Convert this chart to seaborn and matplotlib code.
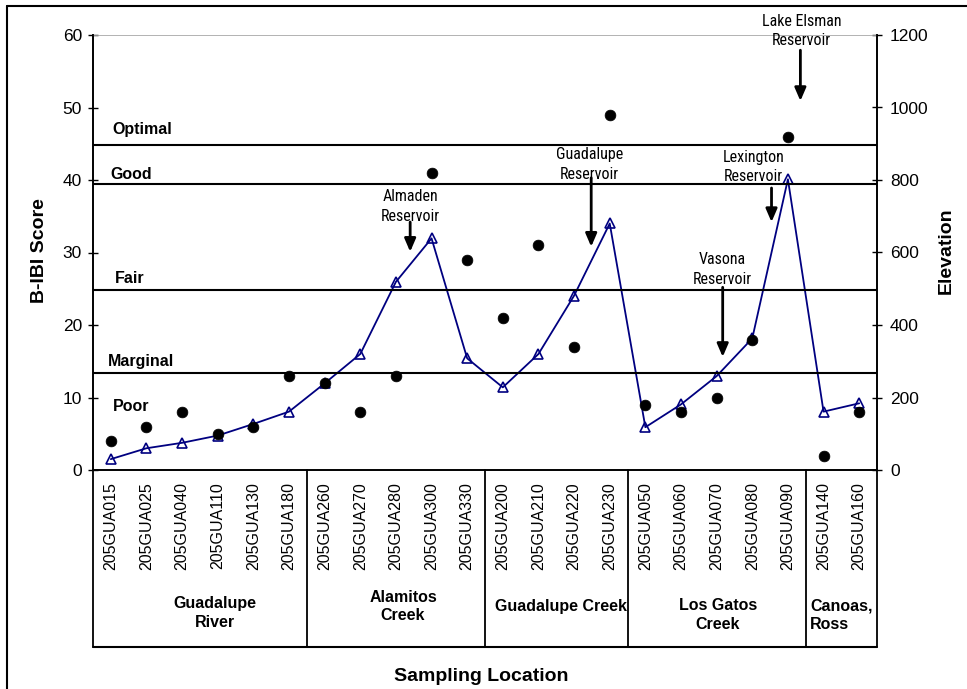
import numpy as np
import pandas as pd
import matplotlib
matplotlib.use("Agg")
import matplotlib.pyplot as plt
from matplotlib import font_manager as fm
from matplotlib.lines import Line2D
import seaborn as sns

# ---- data -------------------------------------------------------------
stations = ["205GUA015", "205GUA025", "205GUA040", "205GUA110", "205GUA130", "205GUA180",
            "205GUA260", "205GUA270", "205GUA280", "205GUA300", "205GUA330",
            "205GUA200", "205GUA210", "205GUA220", "205GUA230",
            "205GUA050", "205GUA060", "205GUA070", "205GUA080", "205GUA090",
            "205GUA140", "205GUA160"]
bibi_score = [4, 6, 8, 5, 6, 13, 12, 8, 13, 41, 29, 21, 31, 17, 49, 9, 8, 10, 18, 46, 2, 8]
elevation = [30, 60, 75, 95, 127, 161, 239, 320, 519, 639, 308, 228, 320, 481, 680,
             118, 181, 259, 363, 802, 161, 184]

groups = ["Guadalupe\nRiver", "Alamitos\nCreek", "Guadalupe Creek", "Los Gatos\nCreek", "Canoas,\nRoss"]
group_sizes = [6, 5, 4, 5, 2]

condition_names = ["Optimal", "Good", "Fair", "Marginal", "Poor"]
condition_thresholds = [44.8, 39.4, 24.8, 13.4]

reservoirs = ["Almaden\nReservoir", "Guadalupe\nReservoir", "Lake Elsman\nReservoir",
              "Lexington\nReservoir", "Vasona\nReservoir"]

df = pd.DataFrame({"station": stations, "score": bibi_score, "elevation": elevation})

# ---- styling ----------------------------------------------------------
sns.set_theme(style="white")
fonts = fm.fontManager.ttflist
names = {f.name for f in fonts}
BASE = "Liberation Sans" if "Liberation Sans" in names else "DejaVu Sans"

# a narrow face for the reservoir callouts, if one is installed
NARROW, NARROW_SIZE = BASE, 10.5
for cand in ("Liberation Sans Narrow", "Arial Narrow", "Roboto Condensed",
             "Open Sans Condensed"):
    if cand in names:
        NARROW, NARROW_SIZE = cand, 11.5
        break

plt.rcParams["font.family"] = [BASE, "DejaVu Sans"]
plt.rcParams["text.color"] = "black"
plt.rcParams["xtick.color"] = "black"
plt.rcParams["ytick.color"] = "black"

W, H = 967, 689
fig = plt.figure(figsize=(W / 100, H / 100), dpi=100)
ax = fig.add_axes([93 / W, 1 - 470 / H, 784 / W, 435 / H])
ax2 = ax.twinx()

NAVY = "#000080"

# B-IBI scores as black dots
sns.scatterplot(data=df, x="station", y="score", ax=ax, color="black", s=60,
                edgecolor="black", linewidth=0.5, zorder=5, clip_on=False, legend=False)

# elevation profile with open triangles
sns.lineplot(data=df, x="station", y="elevation", ax=ax2, sort=False, estimator=None,
             color=NAVY, lw=1.3, marker="^", markersize=7.5, markerfacecolor="none",
             markeredgecolor=NAVY, markeredgewidth=1.2, legend=False, zorder=6)

n = len(stations)
for a in (ax, ax2):
    a.set_xlim(-0.5, n - 0.5)
    a.set_xlabel("")
    a.set_ylabel("")
ax.set_ylim(0, 60)
ax2.set_ylim(0, 1200)
ax.set_yticks(np.arange(0, 61, 10))
ax2.set_yticks(np.arange(0, 1201, 200))
ax.set_zorder(ax2.get_zorder() + 1)
ax.patch.set_visible(False)

# spines
for a in (ax, ax2):
    a.spines["top"].set_visible(False)
    for s in ("left", "right", "bottom"):
        a.spines[s].set_color("black")
        a.spines[s].set_linewidth(1.2)

ax.tick_params(axis="y", direction="inout", length=7, width=1, labelsize=12.5, pad=4.5)
ax2.tick_params(axis="y", direction="inout", length=7, width=1, labelsize=12.5, pad=5.8,
                left=False, right=True)
ax2.tick_params(axis="x", bottom=False, labelbottom=False)

# station labels, with boundary ticks between them
ax.set_xticks(np.arange(n))
ax.set_xticklabels(stations, rotation=90, fontsize=11.5)
ax.tick_params(axis="x", which="major", length=0, pad=8.6)
ax.set_xticks(np.arange(n - 1) + 0.5, minor=True)
ax.tick_params(axis="x", which="minor", direction="inout", length=7, width=1)

# top gridline and condition thresholds
ax.axhline(60, color="#a6a6a6", lw=1.2, zorder=1)
for t in condition_thresholds:
    ax.axhline(t, color="black", lw=1.5, zorder=2)

label_pos = [(0.0246, 46.9), (0.0217, 40.8), (0.0281, 26.4), (0.0195, 15.0), (0.0251, 8.8)]
for name, (xf, yv) in zip(condition_names, label_pos):
    ax.text(xf, yv, name, transform=ax.get_yaxis_transform(), ha="left", va="center",
            fontsize=11.5, fontweight="bold")

# reservoir callouts: (text x, text y, arrow x, arrow start y, arrow end y)
callouts = [(8.40, 36.3, 8.40, 34.2, 30.1),
            (13.43, 42.1, 13.48, 40.3, 30.8),
            (19.39, 60.55, 19.35, 57.9, 50.9),
            (18.03, 41.8, 18.54, 38.9, 34.2),
            (17.17, 27.7, 17.17, 25.2, 15.6)]
for label, (tx, ty, axx, y0, y1) in zip(reservoirs, callouts):
    ax.text(tx, ty, label, ha="center", va="center", fontsize=NARROW_SIZE,
            family=[NARROW, BASE], linespacing=1.4, zorder=8, clip_on=False)
    ax.annotate("", xy=(axx, y1), xytext=(axx, y0), annotation_clip=False, zorder=9,
                arrowprops=dict(arrowstyle="-|>,head_width=0.28,head_length=0.65",
                                color="black", lw=2, shrinkA=0, shrinkB=0))

# stream group table below the axis
xt = ax.get_xaxis_transform()
bottom = -177 / 435
edges = np.concatenate([[0], np.cumsum(group_sizes)]) - 0.5
for e in edges:
    ax.add_line(Line2D([e, e], [0, bottom], transform=xt, color="black", lw=1.3, clip_on=False))
ax.add_line(Line2D([edges[0], edges[-1]], [bottom, bottom], transform=xt, color="black",
                   lw=1.5, clip_on=False))

group_label_pos = [(2.92, -0.329, "center"), (8.20, -0.314, "center"),
                   (12.62, -0.313, "center"), (17.03, -0.333, "center"),
                   (19.62, -0.334, "left")]
for g, (gx, gy, ha) in zip(groups, group_label_pos):
    ax.text(gx, gy, g, transform=xt, ha=ha, va="center", fontsize=11.5,
            fontweight="bold", linespacing=1.3, multialignment=ha)

# axis titles
fig.text(40 / W, 1 - 251 / H, "B-IBI Score", rotation=90, ha="center", va="center",
         fontsize=14, fontweight="bold")
fig.text(946.7 / W, 1 - 251 / H, "Elevation", rotation=90, ha="center", va="center",
         fontsize=14, fontweight="bold")
fig.text(481 / W, 1 - 676.7 / H, "Sampling Location", ha="center", va="center",
         fontsize=14, fontweight="bold")

# outer frame (left and top edges)
fig.add_artist(Line2D([7 / W, 7 / W], [0, 1 - 6 / H], color="black", lw=1.5))
fig.add_artist(Line2D([7 / W, 1], [1 - 6 / H, 1 - 6 / H], color="black", lw=1.5))

fig.savefig("out.png", dpi=100)
